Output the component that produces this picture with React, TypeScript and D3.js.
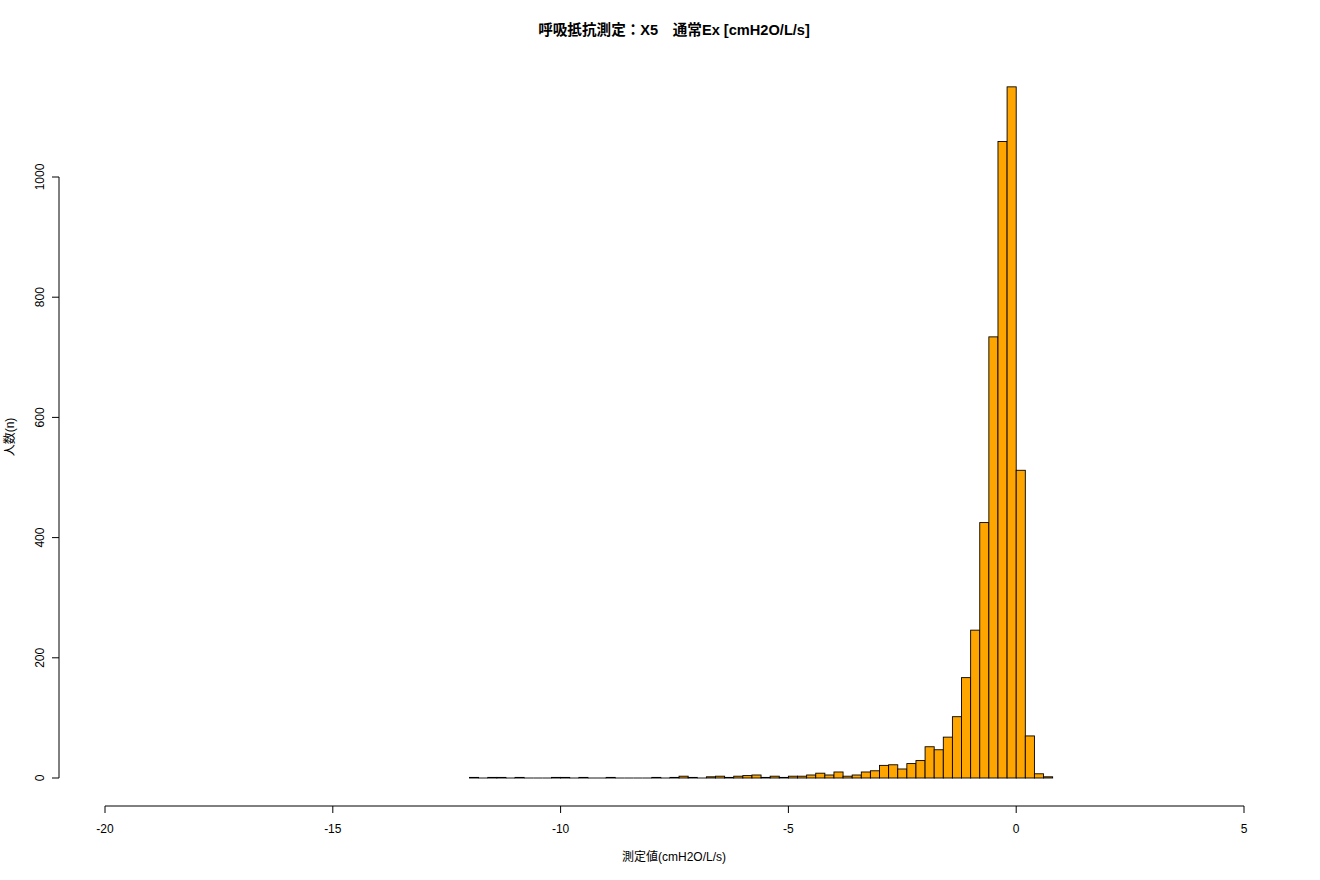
import React from "react";
import * as d3 from "d3";

const binStart = -12.0;
const binWidth = 0.2;
const counts: number[] = [
  1, 0, 1, 1, 0, 1, 0, 0, 0, 1,
  1, 0, 1, 0, 0, 1, 0, 0, 0, 0,
  1, 0, 1, 3, 1, 0, 2, 3, 1, 3,
  4, 5, 1, 3, 1, 3, 3, 5, 8, 5,
  10, 3, 5, 10, 12, 21, 22, 15, 24, 29,
  52, 47, 68, 102, 167, 246, 425, 734, 1059, 1150,
  512, 70, 7, 2,
];
const xTicks = [-20, -15, -10, -5, 0, 5];
const yTicks = [0, 200, 400, 600, 800, 1000];
const title = "呼吸抵抗測定：X5　通常Ex [cmH2O/L/s]";
const xLabel = "測定値(cmH2O/L/s)";
const yLabel = "人数(n)";

const FONT = "'Liberation Sans', Arial, 'Noto Sans CJK JP', sans-serif";

export default function App() {
  const W = 1320, H = 880;
  const x = d3.scaleLinear().domain([-20, 5]).range([105, 1244]);
  const y = d3.scaleLinear().domain([0, 1000]).range([778, 177]);
  const bins = counts.map((c, i) => ({
    x0: binStart + i * binWidth,
    x1: binStart + (i + 1) * binWidth,
    c,
  }));
  const axisY = 806;
  const axisX = 59;
  return (
    <svg width={W} height={H} style={{ position: "absolute", left: 0, top: 0, background: "#fff" }} fontFamily={FONT}>
      <rect x={0} y={0} width={W} height={H} fill="#fff" />
      <text x={674} y={35} textAnchor="middle" fontSize={14.6} fontWeight="bold" fill="#000">{title}</text>
      {bins.map((b, i) =>
        b.c > 0 ? (
          <rect key={i} x={x(b.x0)} y={y(b.c)} width={x(b.x1) - x(b.x0)} height={y(0) - y(b.c)}
            fill="#FFA500" stroke="#000" strokeWidth={0.9} />
        ) : (
          <line key={i} x1={x(b.x0)} x2={x(b.x1)} y1={y(0)} y2={y(0)} stroke="#000" strokeWidth={0.9} />
        )
      )}
      {/* x axis */}
      <line x1={x(-20)} x2={x(5)} y1={axisY} y2={axisY} stroke="#000" />
      {xTicks.map((t) => (
        <g key={t}>
          <line x1={x(t)} x2={x(t)} y1={axisY} y2={axisY + 7} stroke="#000" />
          <text x={x(t)} y={axisY + 27} textAnchor="middle" fontSize={12} fill="#000">{t}</text>
        </g>
      ))}
      {/* y axis */}
      <line x1={axisX} x2={axisX} y1={y(0)} y2={y(1000)} stroke="#000" />
      {yTicks.map((t) => (
        <g key={t}>
          <line x1={axisX} x2={axisX - 7} y1={y(t)} y2={y(t)} stroke="#000" />
          <text transform={`translate(${axisX - 15},${y(t)}) rotate(-90)`} textAnchor="middle" fontSize={12} fill="#000">{t}</text>
        </g>
      ))}
      <text x={674} y={861} textAnchor="middle" fontSize={12} fill="#000">{xLabel}</text>
      <text transform={`translate(14,437) rotate(-90)`} textAnchor="middle" fontSize={12} fill="#000">{yLabel}</text>
    </svg>
  );
}
